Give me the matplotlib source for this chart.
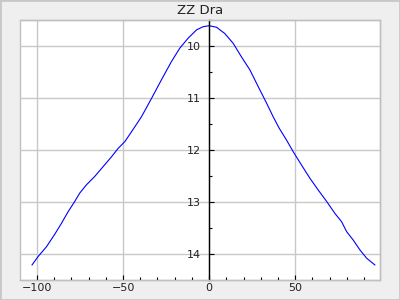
import numpy as np
import matplotlib
matplotlib.use("Agg")
import matplotlib.pyplot as plt
from matplotlib.ticker import MultipleLocator
from matplotlib.patches import Rectangle

# light curve of ZZ Dra
phase = [-102.9, -99.4, -94.5, -89.7, -85.8, -82.0, -78.1, -75.2, -71.3, -66.5,
         -61.6, -56.7, -52.9, -49.0, -45.1, -39.3, -33.5, -27.7, -21.9, -17.0,
         -12.2, -7.3, -3.5, 0.0, 4.3, 9.1, 14.0, 18.8, 23.7, 28.5,
         33.4, 37.2, 40.7, 45.0, 48.8, 53.7, 58.5, 63.4, 68.3, 73.1,
         77.0, 79.9, 83.7, 87.6, 91.5, 96.3]
mag = [14.21, 14.05, 13.86, 13.62, 13.41, 13.19, 12.99, 12.83, 12.67, 12.51,
       12.32, 12.13, 11.97, 11.84, 11.65, 11.36, 11.01, 10.65, 10.30, 10.04,
       9.85, 9.69, 9.63, 9.61, 9.64, 9.76, 9.95, 10.21, 10.46, 10.78,
       11.10, 11.36, 11.58, 11.81, 12.03, 12.29, 12.54, 12.77, 12.99, 13.22,
       13.38, 13.57, 13.73, 13.92, 14.08, 14.21]
title = "ZZ Dra"

fig = plt.figure(figsize=(4, 3), dpi=100, facecolor="#efefef")
fig.patches.append(Rectangle((0, 0), 1, 1, transform=fig.transFigure,
                             fill=False, edgecolor="#c8c8c8", lw=2))
ax = fig.add_axes([0.05, 0.0667, 0.9, 0.8667])
ax.set_facecolor("white")

ax.plot(phase, mag, color="blue", lw=0.8)

ax.set_xlim(-109.9, 99.3)
ax.set_ylim(14.5, 9.5)

ax.xaxis.set_major_locator(MultipleLocator(50))
ax.xaxis.set_minor_locator(MultipleLocator(10))
ax.yaxis.set_major_locator(MultipleLocator(1))
ax.yaxis.set_minor_locator(MultipleLocator(0.5))
ax.grid(True, which="major", color="#c8c8c8", lw=1)
ax.set_axisbelow(True)

# frame in gray, y axis crosses at x = 0
for s in ["top", "right", "bottom"]:
    ax.spines[s].set_color("#c0c0c0")
    ax.spines[s].set_linewidth(1)
ax.spines["left"].set_position(("data", 0))
ax.spines["left"].set_color("black")
ax.spines["left"].set_linewidth(1)
ax.add_patch(Rectangle((0, 0), 1, 1, transform=ax.transAxes, fill=False,
                       edgecolor="#c0c0c0", lw=1, clip_on=False, zorder=0.5))

ax.tick_params(axis="both", which="both", direction="in", colors="black",
               labelsize=8, width=0.8)
ax.tick_params(axis="both", which="major", length=3.6)
ax.tick_params(axis="both", which="minor", length=2.2)
ax.tick_params(axis="y", pad=6)
ax.tick_params(axis="x", pad=2.5)
for lbl in ax.get_xticklabels() + ax.get_yticklabels():
    lbl.set_color("#222222")

ax.set_title(title, fontsize=9.5, color="#222222", pad=4)

fig.savefig("out.png", dpi=100, facecolor=fig.get_facecolor())
